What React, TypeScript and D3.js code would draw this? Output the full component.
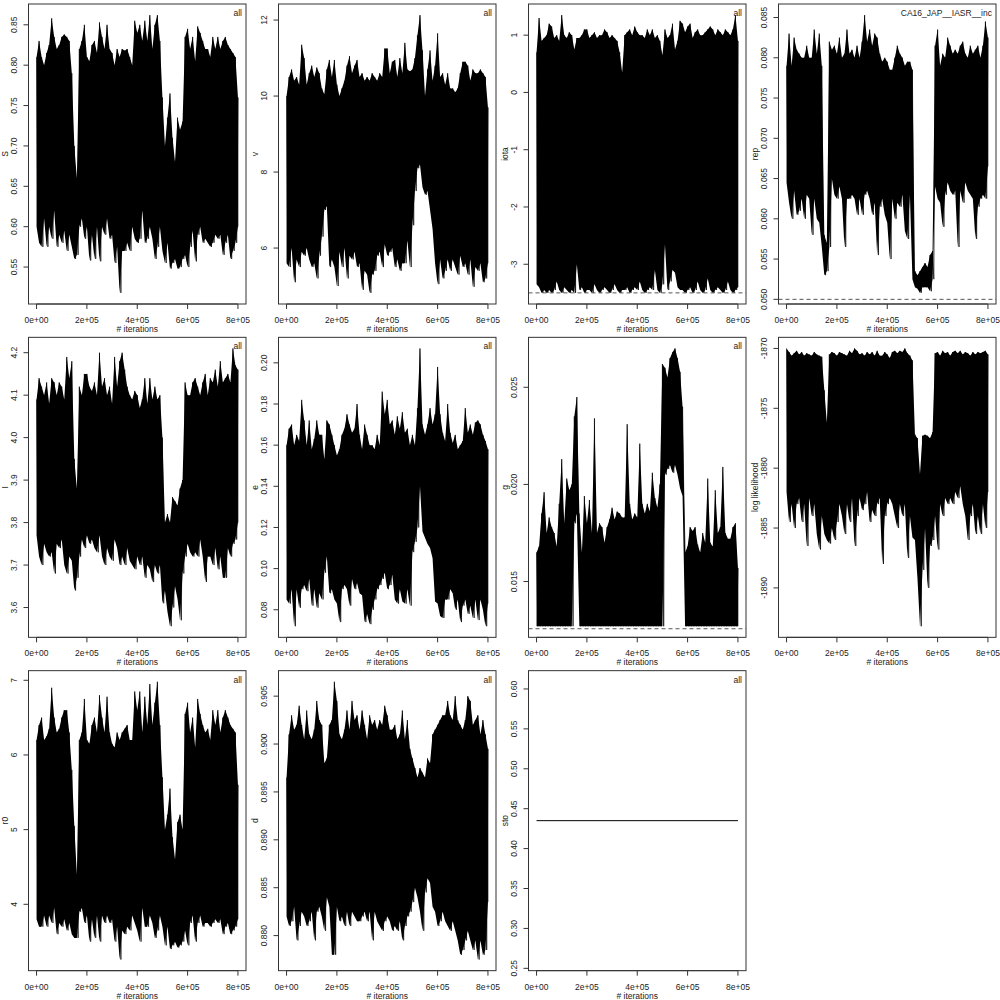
import React from "react";
import * as d3 from "d3";

// iteration grid for the envelopes (every 10k iterations)
const ITER = d3.range(0, 800001, 10000);
const X_TICKS = [0, 200000, 400000, 600000, 800000];
const X_TICK_LABELS = ["0e+00", "2e+05", "4e+05", "6e+05", "8e+05"];

// upper / lower trace envelopes
const S_HI = [0.81, 0.83, 0.81, 0.80, 0.815, 0.825, 0.858, 0.835, 0.82, 0.825,
  0.835, 0.838, 0.835, 0.83, 0.79, 0.70, 0.66, 0.82, 0.83, 0.85,
  0.81, 0.805, 0.825, 0.83, 0.815, 0.853, 0.835, 0.82, 0.85, 0.82,
  0.815, 0.80, 0.82, 0.81, 0.82, 0.818, 0.82, 0.81, 0.80, 0.855,
  0.84, 0.85, 0.83, 0.855, 0.83, 0.862, 0.82, 0.85, 0.862, 0.83,
  0.76, 0.70, 0.735, 0.765, 0.71, 0.68, 0.735, 0.72, 0.73, 0.835,
  0.845, 0.82, 0.835, 0.805, 0.848, 0.84, 0.83, 0.82, 0.82, 0.81,
  0.835, 0.82, 0.835, 0.82, 0.83, 0.835, 0.825, 0.82, 0.815, 0.81, 0.76];
const S_LO = [0.60, 0.58, 0.575, 0.61, 0.575, 0.60, 0.585, 0.62, 0.575, 0.59,
  0.58, 0.595, 0.57, 0.59, 0.575, 0.56, 0.565, 0.60, 0.61, 0.585,
  0.60, 0.558, 0.59, 0.56, 0.60, 0.557, 0.60, 0.59, 0.61, 0.585,
  0.59, 0.555, 0.575, 0.518, 0.57, 0.57, 0.58, 0.57, 0.60, 0.585,
  0.58, 0.585, 0.62, 0.58, 0.585, 0.60, 0.585, 0.56, 0.575, 0.60,
  0.57, 0.555, 0.58, 0.548, 0.555, 0.56, 0.548, 0.55, 0.56, 0.565,
  0.55, 0.575, 0.595, 0.557, 0.59, 0.60, 0.58, 0.585, 0.58, 0.575,
  0.58, 0.59, 0.585, 0.59, 0.565, 0.58, 0.59, 0.56, 0.57, 0.58, 0.60];

const V_HI = [10.0, 10.5, 10.7, 10.4, 10.5, 10.3, 11.35, 11.0, 10.3, 10.6,
  10.8, 10.5, 10.75, 10.6, 10.2, 10.05, 10.7, 10.95, 10.5, 10.95,
  10.3, 10.0, 10.2, 10.4, 10.8, 11.05, 10.6, 10.8, 10.95, 10.5,
  10.6, 10.4, 10.5, 10.4, 10.6, 10.5, 10.4, 10.6, 10.5, 11.25,
  11.25, 10.6, 10.9, 10.95, 10.5, 11.0, 10.6, 11.4, 10.7, 10.65,
  10.7, 11.0, 11.6, 12.13, 11.2, 10.0, 10.7, 11.2, 10.4, 10.8,
  11.65, 10.5, 10.6, 10.3, 10.6, 10.2, 10.2, 10.1, 10.2, 10.6,
  10.9, 10.9, 10.8, 10.4, 10.7, 10.6, 10.6, 10.7, 10.6, 10.5, 9.7];
const V_LO = [5.6, 5.5, 6.0, 5.1, 5.7, 5.5, 5.9, 5.8, 6.0, 5.7,
  5.5, 5.6, 5.2, 5.8, 6.3, 7.0, 7.1, 5.5, 5.7, 5.5,
  5.0, 5.9, 5.5, 6.0, 5.2, 5.8, 5.7, 5.9, 5.5, 5.6,
  4.9, 5.4, 5.3, 4.82, 5.3, 5.4, 5.8, 5.9, 5.5, 6.1,
  5.8, 5.9, 6.0, 5.5, 5.7, 5.4, 5.6, 5.6, 6.2, 5.5,
  6.6, 7.5, 8.1, 8.2, 7.6, 7.4, 7.5, 7.0, 6.5, 5.6,
  5.05, 5.7, 5.2, 5.4, 5.7, 5.4, 5.7, 5.5, 5.3, 5.8,
  5.5, 5.6, 5.3, 5.7, 4.98, 5.5, 5.4, 5.6, 5.1, 5.2, 5.6];

const IOTA_HI = [0.7, 1.3, 0.9, 0.95, 1.0, 1.2, 1.15, 0.95, 1.0, 0.9,
  1.35, 1.0, 0.95, 1.05, 1.0, 0.75, 0.95, 0.95, 1.0, 1.1,
  1.1, 0.95, 1.0, 1.05, 0.95, 1.0, 1.0, 1.1, 1.05, 0.95,
  1.0, 0.95, 0.9, 0.7, 0.35, 1.0, 1.05, 1.1, 1.0, 1.15,
  1.05, 1.0, 1.0, 0.95, 1.1, 1.0, 1.1, 0.95, 1.0, 0.9,
  0.65, 1.1, 0.95, 1.0, 1.2, 0.75, 0.9, 1.25, 1.2, 1.05,
  1.15, 1.2, 0.95, 1.05, 1.1, 1.0, 1.0, 1.05, 1.1, 1.15,
  1.1, 1.0, 1.1, 1.05, 1.0, 1.1, 1.05, 1.0, 1.1, 1.35, 0.9];
const IOTA_LO = [-3.35, -3.4, -3.5, -3.45, -3.5, -3.45, -3.5, -3.45, -3.3, -3.45,
  -3.5, -3.4, -3.45, -3.5, -3.45, -3.5, -3.0, -3.45, -3.4, -3.5,
  -3.45, -3.45, -3.5, -3.35, -3.45, -3.5, -3.45, -3.4, -3.45, -3.5,
  -3.45, -3.35, -3.45, -3.5, -3.45, -3.45, -3.4, -3.5, -3.45, -3.4,
  -3.45, -3.3, -3.45, -3.5, -3.45, -3.4, -3.45, -3.1, -3.45, -3.5,
  -3.35, -2.65, -3.45, -3.3, -3.1, -3.15, -3.4, -3.45, -3.45, -3.5,
  -3.45, -3.4, -3.5, -3.45, -3.3, -3.45, -3.5, -3.45, -3.25, -3.45,
  -3.5, -3.45, -3.4, -3.45, -3.5, -3.45, -3.3, -3.45, -3.5, -3.45, -3.4];

const REP_HI = [0.079, 0.083, 0.079, 0.0825, 0.081, 0.0805, 0.080, 0.080, 0.0815, 0.080,
  0.080, 0.0835, 0.0805, 0.083, 0.079, 0.058, 0.057, 0.082, 0.081, 0.0815,
  0.0805, 0.0825, 0.080, 0.0805, 0.0835, 0.0805, 0.081, 0.080, 0.0815, 0.080,
  0.082, 0.0853, 0.082, 0.0835, 0.0815, 0.083, 0.0825, 0.0805, 0.0795, 0.080,
  0.0795, 0.0785, 0.0785, 0.080, 0.0815, 0.0805, 0.080, 0.079, 0.0795, 0.0795,
  0.0785, 0.0535, 0.053, 0.0535, 0.054, 0.0545, 0.054, 0.0555, 0.056, 0.0815,
  0.0835, 0.079, 0.0805, 0.080, 0.0825, 0.0815, 0.0805, 0.081, 0.0805, 0.0815,
  0.082, 0.0805, 0.080, 0.0815, 0.0805, 0.081, 0.0815, 0.080, 0.0815, 0.0845, 0.0825];
const REP_LO = [0.0645, 0.062, 0.060, 0.0635, 0.0605, 0.061, 0.0625, 0.060, 0.063, 0.0625,
  0.058, 0.0625, 0.060, 0.0595, 0.0565, 0.053, 0.0535, 0.0565, 0.065, 0.063,
  0.0625, 0.064, 0.0625, 0.0565, 0.0625, 0.0625, 0.063, 0.0625, 0.0605, 0.0625,
  0.0605, 0.063, 0.0635, 0.0625, 0.0605, 0.062, 0.0555, 0.0615, 0.0625, 0.0605,
  0.0595, 0.055, 0.0625, 0.060, 0.062, 0.0615, 0.063, 0.0585, 0.0575, 0.063,
  0.0525, 0.0515, 0.0513, 0.0508, 0.0515, 0.0515, 0.0515, 0.051, 0.0525, 0.064,
  0.0625, 0.062, 0.059, 0.063, 0.0645, 0.0635, 0.063, 0.0635, 0.0565, 0.0635,
  0.062, 0.0645, 0.0635, 0.063, 0.0625, 0.0575, 0.0615, 0.0625, 0.063, 0.0625, 0.0665];

const I_HI = [4.09, 4.14, 4.12, 4.10, 4.13, 4.08, 4.14, 4.13, 4.10, 4.13,
  4.12, 4.09, 4.19, 4.14, 4.18, 3.95, 3.88, 4.12, 4.10, 4.15,
  4.15, 4.12, 4.11, 4.13, 4.10, 4.20, 4.12, 4.14, 4.10, 4.12,
  4.08, 4.19, 4.12, 4.18, 4.20, 4.16, 4.12, 4.10, 4.09, 4.11,
  4.10, 4.07, 4.09, 4.14, 4.08, 4.14, 4.09, 4.12, 4.09, 4.10,
  4.00, 3.80, 3.82, 3.80, 3.86, 3.85, 3.84, 3.88, 3.90, 4.13,
  4.10, 4.10, 4.13, 4.14, 4.12, 4.10, 4.13, 4.15, 4.10, 4.14,
  4.13, 4.16, 4.12, 4.18, 4.13, 4.14, 4.15, 4.13, 4.21, 4.17, 4.16];
const I_LO = [3.77, 3.72, 3.70, 3.75, 3.73, 3.72, 3.73, 3.68, 3.75, 3.74,
  3.76, 3.70, 3.68, 3.72, 3.71, 3.64, 3.67, 3.72, 3.76, 3.74,
  3.77, 3.75, 3.76, 3.74, 3.73, 3.77, 3.72, 3.70, 3.74, 3.72,
  3.71, 3.76, 3.74, 3.70, 3.72, 3.70, 3.74, 3.71, 3.70, 3.69,
  3.72, 3.70, 3.72, 3.67, 3.70, 3.69, 3.66, 3.70, 3.68, 3.70,
  3.61, 3.64, 3.59, 3.556, 3.60, 3.65, 3.62, 3.57, 3.68, 3.72,
  3.75, 3.73, 3.72, 3.73, 3.72, 3.76, 3.72, 3.66, 3.72, 3.72,
  3.70, 3.74, 3.69, 3.72, 3.67, 3.67, 3.74, 3.72, 3.75, 3.76, 3.80];

const E_HI = [0.160, 0.168, 0.170, 0.160, 0.165, 0.162, 0.182, 0.172, 0.160, 0.172,
  0.158, 0.163, 0.172, 0.165, 0.165, 0.153, 0.172, 0.170, 0.165, 0.160,
  0.155, 0.158, 0.165, 0.168, 0.175, 0.170, 0.166, 0.168, 0.180, 0.165,
  0.158, 0.170, 0.165, 0.160, 0.160, 0.158, 0.165, 0.160, 0.186, 0.175,
  0.182, 0.170, 0.172, 0.165, 0.174, 0.168, 0.176, 0.166, 0.168, 0.160,
  0.165, 0.160, 0.178, 0.207, 0.170, 0.165, 0.170, 0.178, 0.170, 0.175,
  0.198, 0.175, 0.166, 0.162, 0.180, 0.166, 0.161, 0.165, 0.158, 0.160,
  0.162, 0.178, 0.166, 0.170, 0.165, 0.171, 0.172, 0.170, 0.165, 0.162, 0.158];
const E_LO = [0.085, 0.083, 0.090, 0.072, 0.090, 0.081, 0.090, 0.092, 0.089, 0.095,
  0.082, 0.090, 0.081, 0.088, 0.085, 0.098, 0.106, 0.088, 0.090, 0.085,
  0.083, 0.074, 0.090, 0.092, 0.090, 0.082, 0.095, 0.090, 0.093, 0.088,
  0.087, 0.074, 0.078, 0.073, 0.080, 0.085, 0.090, 0.092, 0.095, 0.098,
  0.090, 0.092, 0.097, 0.085, 0.083, 0.090, 0.084, 0.083, 0.090, 0.082,
  0.108, 0.113, 0.120, 0.140, 0.118, 0.115, 0.112, 0.110, 0.105, 0.084,
  0.083, 0.077, 0.076, 0.085, 0.085, 0.090, 0.088, 0.080, 0.085, 0.074,
  0.082, 0.085, 0.078, 0.082, 0.076, 0.085, 0.075, 0.085, 0.080, 0.072, 0.083];

const G_HI = [0.0165, 0.0168, 0.0185, 0.0196, 0.0175, 0.0183, 0.0178, 0.0175, 0.0168, 0.0190,
  0.0213, 0.0180, 0.0203, 0.0197, 0.0200, 0.0235, 0.0245, 0.0185, 0.0165, 0.0194,
  0.0180, 0.0192, 0.0175, 0.0234, 0.0175, 0.0180, 0.0178, 0.0170, 0.0178, 0.0182,
  0.0188, 0.0182, 0.0186, 0.0185, 0.0183, 0.0183, 0.0231, 0.0190, 0.0182, 0.0185,
  0.0183, 0.0221, 0.0190, 0.0185, 0.0190, 0.0186, 0.0206, 0.0193, 0.0188, 0.0200,
  0.0262, 0.0260, 0.0255, 0.0265, 0.0268, 0.0270, 0.0265, 0.0258, 0.0240, 0.0165,
  0.0168, 0.0178, 0.0176, 0.0178, 0.0169, 0.0165, 0.0175, 0.0170, 0.0203, 0.0170,
  0.0168, 0.0197, 0.0175, 0.0178, 0.0209, 0.0175, 0.0172, 0.0172, 0.0178, 0.0180, 0.0157];
const G_LO = [0.0127, 0.0127, 0.0127, 0.0127, 0.0127, 0.0127, 0.0127, 0.0127, 0.0127, 0.0127,
  0.0127, 0.0127, 0.0127, 0.0127, 0.0127, 0.0180, 0.0185, 0.0127, 0.0127, 0.0127,
  0.0127, 0.0127, 0.0127, 0.0127, 0.0127, 0.0127, 0.0127, 0.0127, 0.0127, 0.0127,
  0.0127, 0.0127, 0.0127, 0.0127, 0.0127, 0.0127, 0.0127, 0.0127, 0.0127, 0.0127,
  0.0127, 0.0127, 0.0127, 0.0127, 0.0127, 0.0127, 0.0127, 0.0127, 0.0127, 0.0127,
  0.0127, 0.0205, 0.0208, 0.0210, 0.0206, 0.0210, 0.0205, 0.0198, 0.0194, 0.0127,
  0.0127, 0.0127, 0.0127, 0.0127, 0.0127, 0.0127, 0.0127, 0.0127, 0.0127, 0.0127,
  0.0127, 0.0127, 0.0127, 0.0127, 0.0127, 0.0127, 0.0127, 0.0127, 0.0127, 0.0127, 0.0127];

const LL_HI = [-1870.0, -1870.3, -1870.6, -1870.4, -1870.2, -1870.5, -1870.3, -1870.6, -1870.4, -1870.5,
  -1870.6, -1870.3, -1870.5, -1870.6, -1870.7, -1873.5, -1876.2, -1870.5, -1870.3, -1870.4,
  -1870.6, -1870.3, -1870.4, -1870.5, -1870.6, -1870.2, -1870.4, -1870.0, -1870.2, -1870.5,
  -1870.4, -1870.6, -1870.3, -1870.5, -1870.3, -1870.6, -1870.2, -1870.6, -1870.6, -1870.3,
  -1870.5, -1870.8, -1870.3, -1870.2, -1870.4, -1870.2, -1870.3, -1870.0, -1870.4, -1870.6,
  -1871.0, -1877.2, -1877.5, -1880.5, -1877.3, -1877.2, -1877.3, -1877.5, -1877.0, -1870.4,
  -1870.3, -1870.6, -1870.2, -1870.4, -1870.3, -1870.6, -1870.3, -1870.2, -1870.4, -1870.2,
  -1870.5, -1870.3, -1870.4, -1870.6, -1870.3, -1870.5, -1870.3, -1870.4, -1870.3, -1870.2, -1870.5];
const LL_LO = [-1882.0, -1884.5, -1883.0, -1885.0, -1883.0, -1882.5, -1884.5, -1883.0, -1886.5, -1882.5,
  -1884.0, -1883.0, -1885.5, -1886.8, -1884.0, -1885.5, -1886.0, -1886.3, -1885.0, -1886.0,
  -1884.5, -1883.0, -1884.0, -1885.5, -1883.0, -1884.5, -1882.5, -1886.5, -1884.0, -1882.5,
  -1883.5, -1883.0, -1882.0, -1884.5, -1883.5, -1884.0, -1883.0, -1882.5, -1888.0, -1884.0,
  -1883.0, -1882.5, -1883.0, -1884.0, -1885.0, -1883.0, -1884.0, -1883.0, -1887.5, -1884.0,
  -1885.8, -1886.0, -1889.2, -1893.2, -1888.5, -1885.0, -1890.0, -1886.5, -1886.0, -1884.0,
  -1886.8, -1883.0, -1884.0, -1882.5, -1883.0, -1882.5, -1883.0, -1882.0, -1882.5, -1881.5,
  -1883.0, -1884.0, -1886.0, -1884.0, -1883.0, -1885.5, -1884.0, -1885.5, -1883.0, -1885.0, -1882.0];

const R0_HI = [6.2, 6.4, 6.5, 6.2, 6.25, 6.35, 6.9, 6.5, 6.3, 6.35,
  6.5, 6.6, 6.6, 6.3, 5.8, 5.05, 4.4, 6.2, 6.3, 6.75,
  6.2, 6.15, 6.4, 6.5, 6.3, 6.8, 6.5, 6.3, 6.78, 6.3,
  6.15, 6.1, 6.3, 6.2, 6.3, 6.35, 6.4, 6.2, 6.2, 6.85,
  6.6, 6.85, 6.3, 6.78, 6.4, 6.95, 6.4, 6.7, 6.98, 6.4,
  5.7, 5.0, 5.2, 5.55, 4.9, 4.6, 5.1, 5.2, 5.0, 6.55,
  6.7, 6.3, 6.5, 6.1, 6.75, 6.55, 6.4, 6.3, 6.35, 6.2,
  6.6, 6.4, 6.6, 6.3, 6.5, 6.6, 6.5, 6.4, 6.35, 6.3, 5.6];
const R0_LO = [3.8, 3.7, 3.7, 3.85, 3.7, 3.85, 3.75, 3.95, 3.6, 3.75,
  3.7, 3.8, 3.65, 3.75, 3.6, 3.55, 3.55, 3.9, 3.95, 3.75,
  3.85, 3.5, 3.8, 3.55, 3.85, 3.5, 3.85, 3.75, 3.85, 3.75,
  3.8, 3.5, 3.7, 3.26, 3.65, 3.6, 3.7, 3.65, 3.85, 3.75,
  3.65, 3.5, 3.95, 3.7, 3.7, 3.85, 3.75, 3.55, 3.65, 3.85,
  3.7, 3.45, 3.7, 3.4, 3.45, 3.5, 3.42, 3.45, 3.5, 3.65,
  3.45, 3.75, 3.85, 3.5, 3.75, 3.85, 3.7, 3.75, 3.75, 3.7,
  3.75, 3.8, 3.75, 3.8, 3.6, 3.7, 3.75, 3.6, 3.65, 3.7, 3.8];

const D_HI = [0.8965, 0.901, 0.903, 0.9015, 0.902, 0.904, 0.902, 0.9005, 0.9035, 0.901,
  0.9005, 0.9015, 0.9045, 0.9025, 0.902, 0.898, 0.8985, 0.902, 0.9025, 0.9065,
  0.9045, 0.901, 0.9005, 0.9015, 0.9035, 0.9015, 0.9045, 0.9025, 0.903, 0.9015,
  0.9035, 0.902, 0.9005, 0.903, 0.902, 0.9025, 0.9015, 0.9025, 0.902, 0.904,
  0.903, 0.9015, 0.9015, 0.902, 0.9005, 0.901, 0.9035, 0.9005, 0.9025, 0.8995,
  0.8985, 0.8975, 0.8965, 0.8975, 0.897, 0.8965, 0.8985, 0.898, 0.901, 0.9015,
  0.902, 0.9025, 0.903, 0.903, 0.9045, 0.903, 0.9025, 0.905, 0.9025, 0.902,
  0.9015, 0.9025, 0.905, 0.9045, 0.902, 0.9025, 0.903, 0.901, 0.9025, 0.901, 0.8995];
const D_LO = [0.882, 0.881, 0.8815, 0.883, 0.8795, 0.881, 0.8825, 0.882, 0.881, 0.8815,
  0.8825, 0.8795, 0.8825, 0.883, 0.882, 0.8805, 0.884, 0.883, 0.878, 0.878,
  0.883, 0.8815, 0.882, 0.881, 0.8825, 0.881, 0.8825, 0.882, 0.8815, 0.8815,
  0.882, 0.8825, 0.8815, 0.8825, 0.8795, 0.8825, 0.8815, 0.881, 0.8805, 0.8815,
  0.882, 0.8815, 0.8805, 0.881, 0.8805, 0.8815, 0.8795, 0.881, 0.882, 0.8825,
  0.8835, 0.885, 0.884, 0.8825, 0.8805, 0.8845, 0.886, 0.8855, 0.883, 0.8825,
  0.881, 0.8815, 0.8825, 0.8815, 0.881, 0.8805, 0.8815, 0.8805, 0.8795, 0.878,
  0.8785, 0.8795, 0.8805, 0.8795, 0.8785, 0.8795, 0.8775, 0.8795, 0.878, 0.8785, 0.8835];

// sto never moves
const STO_VALUE = 0.435;

const PANELS = [
  { ylab: "S", hi: S_HI, lo: S_LO, ticks: [0.55, 0.6, 0.65, 0.7, 0.75, 0.8, 0.85], dec: 2, legend: "all" },
  { ylab: "v", hi: V_HI, lo: V_LO, ticks: [6, 8, 10, 12], dec: 0, legend: "all" },
  { ylab: "iota", hi: IOTA_HI, lo: IOTA_LO, ticks: [-3, -2, -1, 0, 1], dec: 0, legend: "all", dash: -3.5 },
  { ylab: "rep", hi: REP_HI, lo: REP_LO, ticks: [0.05, 0.055, 0.06, 0.065, 0.07, 0.075, 0.08, 0.085], dec: 3, legend: "CA16_JAP__IASR__inc", dash: 0.05 },
  { ylab: "I", hi: I_HI, lo: I_LO, ticks: [3.6, 3.7, 3.8, 3.9, 4.0, 4.1, 4.2], dec: 1, legend: "all" },
  { ylab: "e", hi: E_HI, lo: E_LO, ticks: [0.08, 0.1, 0.12, 0.14, 0.16, 0.18, 0.2], dec: 2, legend: "all" },
  { ylab: "g", hi: G_HI, lo: G_LO, ticks: [0.015, 0.02, 0.025], dec: 3, legend: "all", dash: 0.01257 },
  { ylab: "log likelihood", hi: LL_HI, lo: LL_LO, ticks: [-1890, -1885, -1880, -1875, -1870], dec: 0, legend: "" },
  { ylab: "r0", hi: R0_HI, lo: R0_LO, ticks: [4, 5, 6, 7], dec: 0, legend: "all" },
  { ylab: "d", hi: D_HI, lo: D_LO, ticks: [0.88, 0.885, 0.89, 0.895, 0.9, 0.905], dec: 3, legend: "all" },
  { ylab: "sto", hi: null, lo: null, ticks: [0.25, 0.3, 0.35, 0.4, 0.45, 0.5, 0.55, 0.6], dec: 2, legend: "all" },
];

const CELL_W = 250;
const CELL_H = 1000 / 3;
const PL = 28.5, PR = 246, PT = 4, PB = 304;
const FONT = "'Liberation Sans', Arial, Helvetica, sans-serif";

// R style: data range padded by 4% each side
function padded(lo: number, hi: number) {
  const s = hi - lo;
  return [lo - 0.04 * s, hi + 0.04 * s];
}

function Panel({ p, idx }: { p: any; idx: number }) {
  const col = idx % 4;
  const row = Math.floor(idx / 4);
  const tx = col * CELL_W;
  const ty = row * CELL_H;

  const x = d3.scaleLinear().domain(padded(0, 800000)).range([PL, PR]);
  let ext: number[];
  if (p.hi) {
    ext = d3.extent([...p.hi, ...p.lo]) as number[];
  } else {
    // R's ylim for a constant series: value +/- 40%
    ext = [STO_VALUE * 0.6, STO_VALUE * 1.4];
  }
  const y = d3.scaleLinear().domain(padded(ext[0], ext[1])).range([PB, PT]);

  let bandPath = "";
  let zigPath = "";
  if (p.hi) {
    const area = d3.area<number>()
      .x((d) => x(d))
      .y0((_, i) => y(p.lo[i]))
      .y1((_, i) => y(p.hi[i]));
    bandPath = area(ITER) || "";
    const pts: [number, number][] = [];
    ITER.forEach((it, i) => {
      pts.push([x(it), y(p.hi[i])]);
      const xn = i < ITER.length - 1 ? it + 5000 : it;
      pts.push([x(xn), y(p.lo[i])]);
    });
    zigPath = d3.line()(pts) || "";
  }
  const stoPath = !p.hi ? d3.line<number>().x((d) => x(d)).y(() => y(STO_VALUE))([0, 800000]) : "";

  return (
    <g transform={`translate(${tx},${ty})`} fontFamily={FONT} fontSize={8.5} fill="#222">
      {p.hi && <path d={bandPath} fill="#000" stroke="none" />}
      {p.hi && <path d={zigPath} fill="none" stroke="#000" strokeWidth={0.7} />}
      {!p.hi && <path d={stoPath || ""} fill="none" stroke="#000" strokeWidth={1} />}
      {p.dash !== undefined && (
        <line x1={PL} x2={PR} y1={y(p.dash)} y2={y(p.dash)} stroke="#555" strokeWidth={1} strokeDasharray="4,3" />
      )}
      <rect x={PL} y={PT} width={PR - PL} height={PB - PT} fill="none" stroke="#333" strokeWidth={1} />
      {/* x axis */}
      <line x1={x(0)} x2={x(800000)} y1={PB} y2={PB} stroke="#333" />
      {X_TICKS.map((t, i) => (
        <g key={t}>
          <line x1={x(t)} x2={x(t)} y1={PB} y2={PB + 5} stroke="#333" />
          <text x={x(t)} y={PB + 19} textAnchor="middle">{X_TICK_LABELS[i]}</text>
        </g>
      ))}
      <text x={(PL + PR) / 2} y={PB + 28} textAnchor="middle">{"# iterations"}</text>
      {/* y axis */}
      {p.ticks.map((t: number) => (
        <g key={t}>
          <line x1={PL - 5} x2={PL} y1={y(t)} y2={y(t)} stroke="#333" />
          <text transform={`translate(${PL - 11.5},${y(t)}) rotate(-90)`} textAnchor="middle">{t.toFixed(p.dec)}</text>
        </g>
      ))}
      <text transform={`translate(${PL - 21},${(PT + PB) / 2}) rotate(-90)`} textAnchor="middle">{p.ylab}</text>
      {p.legend && (
        <text x={PR - 4} y={PT + 12} textAnchor="end">{p.legend}</text>
      )}
    </g>
  );
}

export default function App() {
  return (
    <svg width={1000} height={1000} style={{ position: "absolute", left: 0, top: 0, background: "#fff" }}>
      <rect width={1000} height={1000} fill="#fff" />
      {PANELS.map((p, i) => (
        <Panel key={p.ylab} p={p} idx={i} />
      ))}
    </svg>
  );
}
